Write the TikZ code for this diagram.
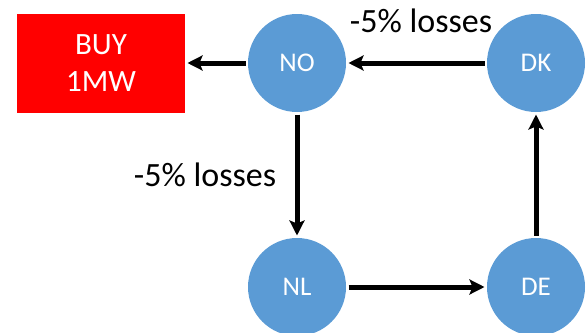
\documentclass[tikz,border=0pt]{standalone}
\usepackage{fontspec}
\setmainfont{Carlito}
\usetikzlibrary{arrows.meta, positioning}

\definecolor{gridblue}{HTML}{5B9BD5}

\begin{document}
\begin{tikzpicture}[%
    >={Stealth[length=15pt,width=15pt,inset=3pt]},
    x=1pt, y=1pt,
    node distance=224pt and 239pt,
    on grid,
    country/.style={circle, fill=gridblue, minimum size=98pt, inner sep=0pt,
      text=white, font=\fontsize{27}{32}\selectfont},
    buybox/.style={rectangle, fill=red, minimum width=168pt, minimum height=99pt,
      text=white, align=center, font=\fontsize{31}{37}\selectfont},
    lossnote/.style={font=\fontsize{34}{40}\selectfont},
    line width=5pt
  ]
  \useasboundingbox (0,0) rectangle (586,-332);

  \node[country] (NO) at (297,-63) {NO};
  \node[country] (DK) [right=of NO] {DK};
  \node[country] (NL) [below=of NO] {NL};
  \node[country] (DE) [right=of NL] {DE};
  \node[buybox] (BUY) [left=196pt of NO] {BUY\\1MW};

  \node[lossnote] (lossTop) at (421,-21) {-5\% losses};
  \node[lossnote] (lossLeft) at (205,-175) {-5\% losses};

  \draw[->] (NO) -- (BUY);
  \draw[->] (DK) -- (NO);
  \draw[->] (NO) -- (NL);
  \draw[->] (NL) -- (DE);
  \draw[->] (DE) -- (DK);
\end{tikzpicture}
\end{document}
